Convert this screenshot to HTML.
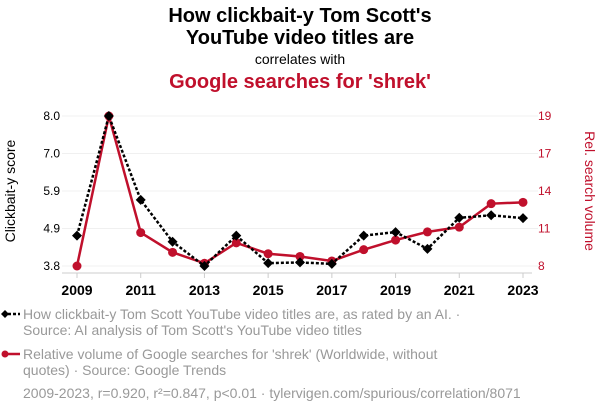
<!DOCTYPE html>
<html><head><meta charset="utf-8"><style>
body{margin:0;background:#fff;font-family:"Liberation Sans",sans-serif;}
#wrap{position:relative;width:600px;height:414px;overflow:hidden;}
</style></head><body>
<div id="wrap">
<svg id="svg" width="600" height="414">
<text x="300" y="22" text-anchor="middle" font-size="20" font-weight="bold" fill="#000">How clickbait-y Tom Scott's</text>
<text x="300" y="44" text-anchor="middle" font-size="20" font-weight="bold" fill="#000">YouTube video titles are</text>
<text x="300" y="64" text-anchor="middle" font-size="14" fill="#000">correlates with</text>
<text x="300" y="88" text-anchor="middle" font-size="20" font-weight="bold" fill="#c0102c">Google searches for 'shrek'</text>
<text transform="translate(15,191) rotate(-90)" text-anchor="middle" font-size="14" fill="#000">Clickbait-y score</text>
<text transform="translate(585,191) rotate(90)" text-anchor="middle" font-size="14" fill="#c0102c">Rel. search volume</text>
<g id="grid"></g><g id="axes"></g><g id="marks"></g>
<g>
<line x1="3" y1="314" x2="20" y2="314" stroke="#000" stroke-width="2.5" stroke-dasharray="3,2"/>
<path d="M1,314 L5,310 L9,314 L5,318Z" fill="#000"/>
<text x="23" y="319" font-size="14" fill="#999">How clickbait-y Tom Scott YouTube video titles are, as rated by an AI. ·</text>
<text x="23" y="335" font-size="14" fill="#999">Source: AI analysis of Tom Scott's YouTube video titles</text>
</g>
<g>
<line x1="3" y1="354" x2="20" y2="354" stroke="#c0102c" stroke-width="2.5"/>
<circle cx="5" cy="354" r="3.5" fill="#c0102c"/>
<text x="23" y="359" font-size="14" fill="#999">Relative volume of Google searches for 'shrek' (Worldwide, without</text>
<text x="23" y="375" font-size="14" fill="#999">quotes) · Source: Google Trends</text>
</g>
<text x="23" y="398" font-size="14" fill="#999">2009-2023, r=0.920, r²=0.847, p&lt;0.01 · tylervigen.com/spurious/correlation/8071</text>
</svg>
</div>
<script>
const years=[2009,2010,2011,2012,2013,2014,2015,2016,2017,2018,2019,2020,2021,2022,2023];
const clickbait=[4.65,8.0,5.65,4.48,3.8,4.65,3.88,3.9,3.86,4.65,4.75,4.28,5.15,5.22,5.14];
const searches=[8,19,10.45,9.0,8.2,9.7,8.9,8.7,8.37,9.2,9.9,10.5,10.85,12.57,12.67];
const leftTicks=[3.8,4.85,5.9,6.95,8.0];
const leftLabels=["3.8","4.9","5.9","7.0","8.0"];
const rightTicks=[8,10.75,13.5,16.25,19];
const rightLabels=["8","11","14","17","19"];
const xTicks=[2009,2011,2013,2015,2017,2019,2021,2023];

const NS="http://www.w3.org/2000/svg";
const x=v=>77+(v-2009)/(2023-2009)*446;
const yL=v=>266-(v-3.8)/(8.0-3.8)*150;
const yR=v=>266-(v-8)/(19-8)*150;
function mk(t,a,p){const e=document.createElementNS(NS,t);for(const k in a)e.setAttribute(k,a[k]);p.appendChild(e);return e;}
const grid=document.getElementById('grid'),axes=document.getElementById('axes'),marks=document.getElementById('marks');
leftTicks.forEach((v,i)=>{
 const g=mk('line',{x1:62,x2:538,y1:yL(v),y2:yL(v),stroke:'#f0f0f0','stroke-width':1},grid);
 
 
 const t=mk('text',{x:60,y:yL(v)+4,'text-anchor':'end','font-size':12,fill:'#000'},axes);t.textContent=leftLabels[i];
 
 
});
rightTicks.forEach((v,i)=>{
 const t=mk('text',{x:538,y:yR(v)+4,'font-size':12,fill:'#c0102c'},axes);t.textContent=rightLabels[i];
 
 
});
mk('line',{x1:62,x2:532,y1:273,y2:273,stroke:'#ccc'},axes);
xTicks.forEach(v=>{
 mk('line',{x1:x(v),x2:x(v),y1:273,y2:278,stroke:'#ccc'},axes);
 const t=mk('text',{x:x(v),y:295,'text-anchor':'middle','font-size':14,'font-weight':'bold',fill:'#000'},axes);t.textContent=v;
 
 
});
const rl=mk('polyline',{points:years.map((yr,i)=>x(yr)+','+yR(searches[i])).join(' '),fill:'none',stroke:'#c0102c','stroke-width':2.5},marks);


years.forEach((yr,i)=>{
 const c=mk('circle',{cx:x(yr),cy:yR(searches[i]),r:4.5,fill:'#c0102c'},marks);
 
 
});
const bl=mk('polyline',{points:years.map((yr,i)=>x(yr)+','+yL(clickbait[i])).join(' '),fill:'none',stroke:'#000','stroke-width':2.5,'stroke-dasharray':'3,2'},marks);


years.forEach((yr,i)=>{
 const cx=x(yr),cy=yL(clickbait[i]);
 const d=mk('path',{d:`M${cx-5},${cy} L${cx},${cy-5} L${cx+5},${cy} L${cx},${cy+5}Z`,fill:'#000'},marks);
 
 
});
</script>
</body></html>
